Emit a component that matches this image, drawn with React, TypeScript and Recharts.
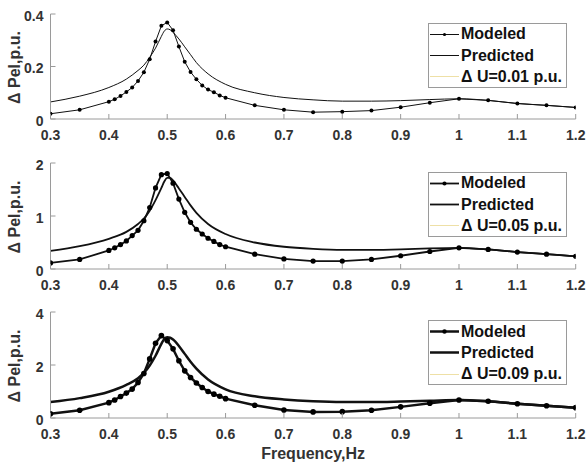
import React from 'react';
import { LineChart, Line, XAxis, YAxis, Legend } from 'recharts';

const FONT = '"Liberation Sans", Arial, sans-serif';
const AXIS = '#9a9a9a';
const TICK_TEXT = '#333333';

const xTicks = [0.3, 0.4, 0.5, 0.6, 0.7, 0.8, 0.9, 1.0, 1.1, 1.2];
const xTickLabels = ['0.3', '0.4', '0.5', '0.6', '0.7', '0.8', '0.9', '1', '1.1', '1.2'];

const modeledFreq = [0.3, 0.35, 0.4, 0.41, 0.42, 0.43, 0.44, 0.45, 0.46, 0.47, 0.48, 0.49, 0.5, 0.51, 0.52, 0.53, 0.54, 0.55, 0.56, 0.57, 0.58, 0.59, 0.6, 0.65, 0.7, 0.75, 0.8, 0.85, 0.9, 0.95, 1.0, 1.05, 1.1, 1.15, 1.2];
const predictedFreq = [0.3, 0.35, 0.4, 0.43, 0.45, 0.46, 0.47, 0.48, 0.49, 0.495, 0.5, 0.505, 0.51, 0.52, 0.53, 0.54, 0.55, 0.57, 0.6, 0.65, 0.7, 0.75, 0.8, 0.85, 0.9, 0.95, 1.0, 1.05, 1.1, 1.15, 1.2];

// Panel 1: ΔU = 0.01 p.u.
const modeled1 = [0.02, 0.035, 0.066, 0.075, 0.088, 0.103, 0.12, 0.145, 0.178, 0.228, 0.295, 0.355, 0.368, 0.338, 0.276, 0.218, 0.179, 0.151, 0.128, 0.112, 0.102, 0.09, 0.081, 0.052, 0.035, 0.026, 0.028, 0.032, 0.045, 0.062, 0.077, 0.071, 0.059, 0.052, 0.044];
const predicted1 = [0.065, 0.087, 0.12, 0.152, 0.185, 0.205, 0.235, 0.27, 0.315, 0.335, 0.343, 0.34, 0.33, 0.305, 0.275, 0.245, 0.215, 0.172, 0.132, 0.1, 0.082, 0.073, 0.068, 0.068, 0.07, 0.074, 0.077, 0.071, 0.059, 0.052, 0.044];

// Panel 2: ΔU = 0.05 p.u.
const modeled2 = [0.114, 0.18, 0.35, 0.4, 0.46, 0.53, 0.63, 0.73, 0.91, 1.16, 1.53, 1.78, 1.8, 1.62, 1.32, 1.07, 0.88, 0.75, 0.66, 0.58, 0.52, 0.46, 0.42, 0.28, 0.19, 0.15, 0.15, 0.18, 0.25, 0.33, 0.4, 0.37, 0.32, 0.28, 0.24];
const predicted2 = [0.34, 0.43, 0.57, 0.7, 0.85, 0.95, 1.1, 1.3, 1.53, 1.65, 1.72, 1.72, 1.67, 1.52, 1.36, 1.2, 1.06, 0.85, 0.66, 0.5, 0.42, 0.38, 0.36, 0.36, 0.37, 0.39, 0.4, 0.37, 0.32, 0.28, 0.24];

// Panel 3: ΔU = 0.09 p.u.
const modeled3 = [0.16, 0.29, 0.58, 0.68, 0.81, 0.94, 1.09, 1.34, 1.68, 2.23, 2.82, 3.11, 2.92, 2.61, 2.16, 1.78, 1.53, 1.32, 1.15, 1.0, 0.9, 0.82, 0.73, 0.48, 0.3, 0.23, 0.24, 0.29, 0.42, 0.56, 0.68, 0.63, 0.54, 0.46, 0.39];
const predicted3 = [0.6, 0.75, 0.99, 1.25, 1.5, 1.7, 1.98, 2.35, 2.8, 2.98, 3.05, 3.03, 2.96, 2.72, 2.42, 2.12, 1.86, 1.45, 1.08, 0.82, 0.7, 0.63, 0.6, 0.6, 0.62, 0.65, 0.68, 0.63, 0.54, 0.46, 0.39];

const seriesNames = ['Modeled', 'Predicted'];
const deltaLabels = ['\u0394 U=0.01 p.u.', '\u0394 U=0.05 p.u.', '\u0394 U=0.09 p.u.'];
const yTicks1 = [0, 0.2, 0.4];
const yTicks2 = [0, 1, 2];
const yTicks3 = [0, 2, 4];
const yTickLabels1 = ['0', '0.2', '0.4'];
const yTickLabels2 = ['0', '1', '2'];
const yTickLabels3 = ['0', '2', '4'];

const toPoints = (fs: number[], vs: number[]) => fs.map((f, i) => ({ f, v: vs[i] }));

const BottomTick = (props: any) => {
  const { x, y, payload } = props;
  const idx = xTicks.findIndex((t) => Math.abs(t - payload.value) < 1e-9);
  return (
    <g>
      <line x1={x} x2={x} y1={y} y2={y - 5} stroke={AXIS} strokeWidth={1} />
      <text x={x} y={y + 16} textAnchor="middle" dominantBaseline="central" fontSize={14} fontWeight="bold" fontFamily={FONT} fill={TICK_TEXT}>
        {idx >= 0 ? xTickLabels[idx] : ''}
      </text>
    </g>
  );
};

const TopTick = (props: any) => {
  const { x, y } = props;
  return <line x1={x} x2={x} y1={y} y2={y + 5} stroke={AXIS} strokeWidth={1} />;
};

const makeLeftTick = (ticks: number[], labels: string[]) => (props: any) => {
  const { x, y, payload } = props;
  const idx = ticks.findIndex((t) => Math.abs(t - payload.value) < 1e-9);
  return (
    <g>
      <line x1={x} x2={x + 5} y1={y} y2={y} stroke={AXIS} strokeWidth={1} />
      <text x={x - 7} y={y + 1.5} textAnchor="end" dominantBaseline="central" fontSize={14} fontWeight="bold" fontFamily={FONT} fill={TICK_TEXT}>
        {idx >= 0 ? labels[idx] : ''}
      </text>
    </g>
  );
};

const RightTick = (props: any) => {
  const { x, y } = props;
  return <line x1={x} x2={x - 5} y1={y} y2={y} stroke={AXIS} strokeWidth={1} />;
};

const YLabel = (props: any) => {
  const vb = props.viewBox || {};
  const cx = 14;
  const cy = (vb.y || 0) + (vb.height || 0) / 2 + 1;
  return (
    <text x={cx} y={cy} transform={`rotate(-90 ${cx} ${cy})`} textAnchor="middle" dominantBaseline="central" fontSize={16} fontWeight="bold" fontFamily={FONT} fill="#333">
      {'\u0394 Pel,p.u.'}
    </text>
  );
};

const XLabel = (props: any) => {
  const vb = props.viewBox || {};
  const cx = (vb.x || 0) + (vb.width || 0) / 2;
  const cy = (vb.y || 0) + 35;
  return (
    <text x={cx} y={cy} textAnchor="middle" dominantBaseline="central" fontSize={16} fontWeight="bold" fontFamily={FONT} fill="#333">
      Frequency,Hz
    </text>
  );
};

const makeLegend = (lw: number, dotR: number) => (props: any) => {
  const payload = props.payload || [];
  return (
    <div style={{ border: `1px solid ${AXIS}`, background: '#fff', width: 139, height: 65, boxSizing: 'border-box', fontFamily: FONT, fontWeight: 'bold', fontSize: 16, color: '#111' }}>
      {payload.map((entry: any, i: number) => (
        <div key={i} style={{ height: 21.3, display: 'flex', alignItems: 'center', whiteSpace: 'nowrap' }}>
          <svg width={31} height={21} style={{ flex: 'none' }}>
            <line x1={1} x2={30} y1={10.5} y2={10.5} stroke={entry.color} strokeWidth={i === 2 ? 1 : lw} />
            {i === 0 ? <circle cx={15.5} cy={10.5} r={dotR * 0.8} fill="#000" /> : null}
          </svg>
          <span style={{ marginLeft: 1 }}>{entry.value}</span>
        </div>
      ))}
    </div>
  );
};

type PanelProps = {
  top: number;
  height: number;
  xAxisHeight: number;
  yMax: number;
  yTicks: number[];
  yTickLabels: string[];
  modeled: number[];
  predicted: number[];
  delta: string;
  lw: number;
  dotR: number;
  xLabel?: boolean;
  legendTop: number;
};

const Panel = (p: PanelProps) => {
  const LeftTick = makeLeftTick(p.yTicks, p.yTickLabels);
  return (
    <div style={{ position: 'absolute', left: 0, top: p.top, width: 587, height: p.height }}>
      <LineChart width={587} height={p.height} margin={{ top: 14, right: 11.3, bottom: 0, left: 0 }}>
        <XAxis
          dataKey="f"
          type="number"
          domain={[0.3, 1.2]}
          ticks={xTicks}
          interval={0}
          allowDataOverflow
          height={p.xAxisHeight}
          stroke={AXIS}
          tickLine={false}
          tickSize={0}
          tickMargin={0}
          tick={<BottomTick />}
          label={p.xLabel ? <XLabel /> : undefined}
        />
        <XAxis
          xAxisId="top"
          orientation="top"
          dataKey="f"
          type="number"
          domain={[0.3, 1.2]}
          ticks={xTicks}
          interval={0}
          height={0}
          stroke={AXIS}
          tickLine={false}
          tickSize={0}
          tickMargin={0}
          tick={<TopTick />}
        />
        <YAxis
          type="number"
          domain={[0, p.yMax]}
          ticks={p.yTicks}
          interval={0}
          allowDataOverflow
          width={50.5}
          stroke={AXIS}
          tickLine={false}
          tickSize={0}
          tickMargin={0}
          tick={<LeftTick />}
          label={<YLabel />}
        />
        <YAxis
          yAxisId="right"
          orientation="right"
          type="number"
          domain={[0, p.yMax]}
          ticks={p.yTicks}
          interval={0}
          width={0}
          stroke={AXIS}
          tickLine={false}
          tickSize={0}
          tickMargin={0}
          tick={<RightTick />}
        />
        <Legend
          layout="vertical"
          align="center"
          verticalAlign="middle"
          wrapperStyle={{ left: 428, top: p.legendTop, width: 139, height: 65 }}
          content={makeLegend(p.lw, p.dotR)}
        />
        <Line
          name={seriesNames[0]}
          data={toPoints(modeledFreq, p.modeled)}
          dataKey="v"
          type="linear"
          stroke="#111"
          strokeWidth={p.lw}
          dot={{ r: p.dotR, fill: '#000', stroke: '#000', strokeWidth: 0 }}
          activeDot={false}
          isAnimationActive={false}
        />
        <Line
          name={seriesNames[1]}
          data={toPoints(predictedFreq, p.predicted)}
          dataKey="v"
          type="monotone"
          stroke="#111"
          strokeWidth={p.lw}
          dot={false}
          activeDot={false}
          isAnimationActive={false}
        />
        <Line
          name={p.delta}
          data={[]}
          dataKey="v"
          type="linear"
          stroke="#eee0a6"
          strokeWidth={1}
          dot={false}
          activeDot={false}
          isAnimationActive={false}
        />
      </LineChart>
    </div>
  );
};

export default function App() {
  return (
    <div style={{ position: 'absolute', left: 0, top: 0, width: 587, height: 464, background: '#fff', fontFamily: FONT }}>
      <Panel top={0} height={150} xAxisHeight={31} yMax={0.4} yTicks={yTicks1} yTickLabels={yTickLabels1} modeled={modeled1} predicted={predicted1} delta={deltaLabels[0]} lw={1} dotR={2} legendTop={22.7} />
      <Panel top={149} height={150} xAxisHeight={30} yMax={2} yTicks={yTicks2} yTickLabels={yTickLabels2} modeled={modeled2} predicted={predicted2} delta={deltaLabels[1]} lw={1.8} dotR={2.6} legendTop={22.7} />
      <Panel top={298} height={166} xAxisHeight={46} yMax={4} yTicks={yTicks3} yTickLabels={yTickLabels3} modeled={modeled3} predicted={predicted3} delta={deltaLabels[2]} lw={2.5} dotR={2.8} xLabel legendTop={22} />
    </div>
  );
}
